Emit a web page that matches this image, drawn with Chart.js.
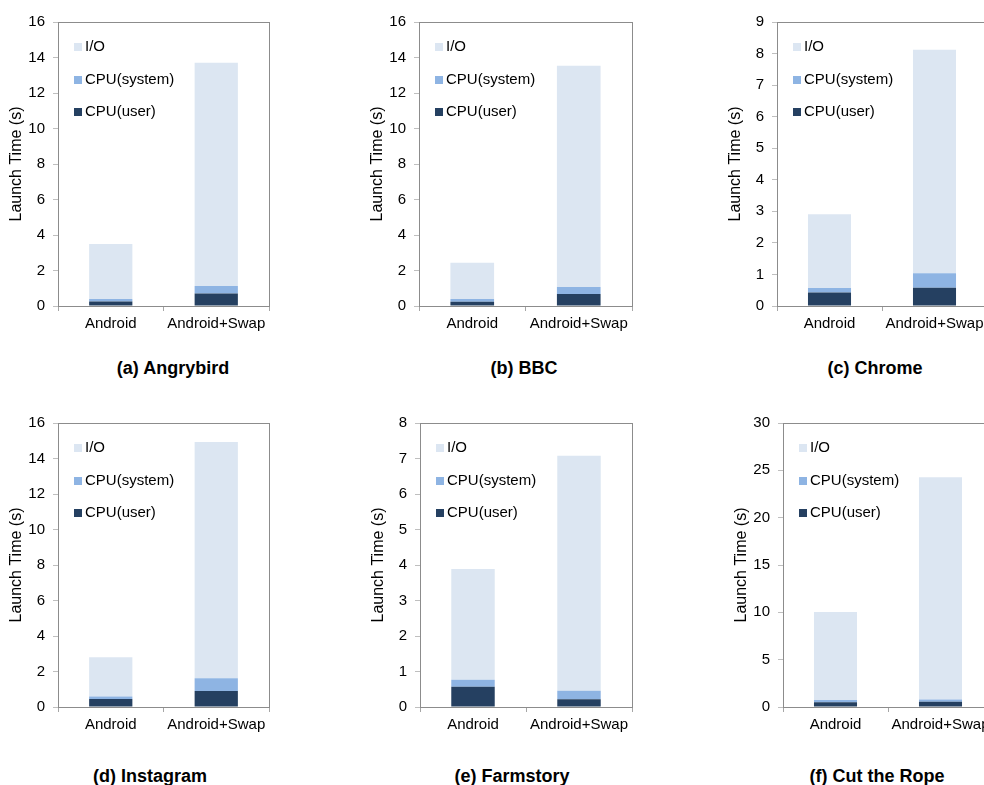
<!DOCTYPE html>
<html>
<head>
<meta charset="utf-8">
<script src="https://cdn.jsdelivr.net/npm/chart.js@4.4.0/dist/chart.umd.min.js"></script>
<style>
  body { margin: 0; width: 984px; height: 785px; overflow: hidden; background: #fff; position: relative; font-family: "Liberation Sans", Arial, sans-serif; }
  canvas { position: absolute; }
  .caption { position: absolute; width: 260px; text-align: center; font-weight: bold; font-size: 18px; line-height: 20px; color: #000; }
</style>
</head>
<body>
<script>
const categories = ['Android', 'Android+Swap'];
const seriesNames = ['CPU(user)', 'CPU(system)', 'I/O'];
const appTitles = ['(a) Angrybird', '(b) BBC', '(c) Chrome', '(d) Instagram', '(e) Farmstory', '(f) Cut the Rope'];

// seconds, [Android, Android+Swap] per app
const cpuUser   = [[0.25, 0.70], [0.24, 0.67], [0.43, 0.58], [0.45, 0.90], [0.57, 0.22], [0.50, 0.55]];
const cpuSystem = [[0.15, 0.42], [0.15, 0.40], [0.14, 0.46], [0.14, 0.72], [0.20, 0.24], [0.23, 0.25]];
const ioTime    = [[3.10, 12.58], [2.05, 12.46], [2.34, 7.08], [2.21, 13.31], [3.12, 6.62], [9.30, 23.46]];

const yMax  = [16, 16, 9, 16, 8, 30];
const yStep = [2, 2, 1, 2, 1, 5];

const colors = ['#254061', '#8eb4e3', '#dce6f2'];

// plot area on the page: left, right, top, bottom
const plotBoxes = [
  [58, 269, 17, 306], [419, 632, 17, 306], [777, 987, 17, 306],
  [58, 269, 418, 707], [420, 632, 418, 707], [783, 993, 418, 707]
];
const captionPos = [[173, 368], [524, 368], [875, 368], [150, 776], [512, 776], [877, 776]];

Chart.defaults.font.family = '"Liberation Sans", Arial, sans-serif';
Chart.defaults.font.size = 15;
Chart.defaults.color = '#000';

// gray box around the plot
const frame = {
  id: 'frame',
  beforeDatasetsDraw(chart) {
    const { ctx, chartArea: a } = chart;
    ctx.save();
    ctx.strokeStyle = '#8c8c8c';
    ctx.lineWidth = 1;
    ctx.strokeRect(a.left + 0.5, a.top + 0.5, a.right - a.left, a.bottom - a.top);
    ctx.restore();
  }
};

// legend inside the plot, top-left, I/O first
const insideLegend = {
  id: 'insideLegend',
  afterDatasetsDraw(chart) {
    const { ctx, chartArea } = chart;
    const sets = chart.data.datasets.slice().reverse();
    ctx.save();
    ctx.font = '15px "Liberation Sans", Arial, sans-serif';
    ctx.textBaseline = 'middle';
    sets.forEach((ds, i) => {
      const x = chartArea.left + 16;
      const y = chartArea.top + 25 + i * 32.5;
      ctx.fillStyle = ds.backgroundColor;
      ctx.fillRect(x, Math.round(y - 4), 8, 8);
      ctx.fillStyle = '#000';
      ctx.fillText(ds.label, x + 11, y);
    });
    ctx.restore();
  }
};

const series = [cpuUser, cpuSystem, ioTime];

plotBoxes.forEach((box, i) => {
  const [L, R, T, B] = box;
  const x0 = L - 58, y0 = T - 12;
  const w = R - L + 68, h = B - T + 52;

  const canvas = document.createElement('canvas');
  canvas.width = w;
  canvas.height = h;
  canvas.style.left = x0 + 'px';
  canvas.style.top = y0 + 'px';
  canvas.style.width = w + 'px';
  canvas.style.height = h + 'px';
  document.body.appendChild(canvas);

  new Chart(canvas.getContext('2d'), {
    type: 'bar',
    data: {
      labels: categories,
      datasets: seriesNames.map((name, k) => ({
        label: name,
        data: series[k][i],
        backgroundColor: colors[k],
        borderWidth: 0,
        categoryPercentage: 1,
        barPercentage: 0.41
      }))
    },
    options: {
      responsive: false,
      animation: false,
      layout: { padding: { left: 0, top: 12, right: 10, bottom: 0 } },
      plugins: {
        legend: { display: false },
        tooltip: { enabled: false }
      },
      scales: {
        x: {
          stacked: true,
          z: 1,
          grid: { drawOnChartArea: false, tickLength: 5, color: '#a6a6a6', offset: true },
          border: { color: '#000', width: 1 },
          ticks: { color: '#000', padding: 4, maxRotation: 0, autoSkip: false },
          afterFit(scale) { scale.height = 40; }
        },
        y: {
          stacked: true,
          min: 0,
          max: yMax[i],
          grid: { drawOnChartArea: false, tickLength: 5, color: '#bfbfbf' },
          border: { color: '#8c8c8c' },
          ticks: { stepSize: yStep[i], color: '#000', padding: 8 },
          title: {
            display: true,
            text: 'Launch Time (s)',
            color: '#000',
            font: { size: 16 },
            padding: { top: 7, bottom: 0 }
          },
          afterFit(scale) { scale.width = 58; }
        }
      }
    },
    plugins: [frame, insideLegend]
  });

  const cap = document.createElement('div');
  cap.className = 'caption';
  cap.textContent = appTitles[i];
  cap.style.left = (captionPos[i][0] - 130) + 'px';
  cap.style.top = (captionPos[i][1] - 10) + 'px';
  document.body.appendChild(cap);
});
</script>
</body>
</html>
